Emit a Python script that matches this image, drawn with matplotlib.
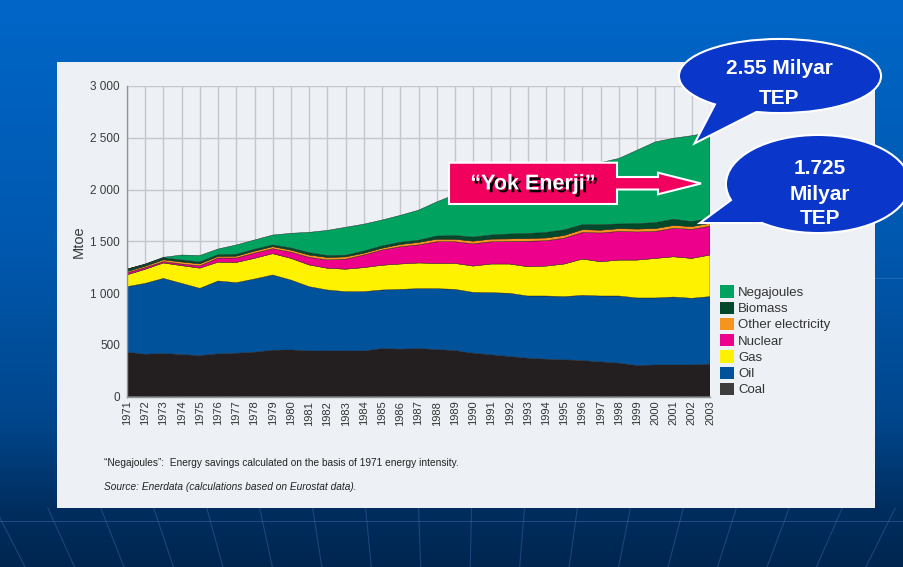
import matplotlib
matplotlib.use("Agg")
import matplotlib.pyplot as plt
import matplotlib.patheffects as pe
import numpy as np
from matplotlib.patches import Ellipse, Polygon, Rectangle, Patch

plt.rcParams["font.family"] = ["Liberation Sans Narrow", "Liberation Sans", "DejaVu Sans"]

# ---- data (Mtoe), EU energy consumption by source 1971-2003
years = list(range(1971, 2004))
coal = [428, 408, 415, 405, 395, 412, 418, 428, 447, 450, 440, 440, 440, 440, 463, 457, 463,
        453, 444, 418, 402, 386, 370, 360, 354, 347, 334, 322, 299, 305, 305, 305, 312]
oil = [633, 685, 726, 688, 650, 704, 682, 707, 727, 675, 621, 589, 573, 573, 566, 578, 579,
       589, 591, 588, 601, 611, 601, 611, 611, 630, 637, 649, 653, 647, 656, 644, 653]
gas = [114, 136, 149, 171, 195, 182, 195, 200, 206, 210, 210, 210, 217, 232, 239, 245, 248,
       244, 251, 254, 277, 283, 283, 289, 315, 351, 331, 347, 366, 382, 389, 385, 402]
nuclear = [20, 16, 13, 16, 22, 40, 43, 50, 48, 60, 74, 81, 97, 122, 147, 167, 175,
           209, 209, 215, 215, 217, 246, 245, 250, 257, 278, 277, 272, 261, 275, 281, 278]
other_elec = [12, 14, 18, 20, 20, 16, 18, 20, 20, 20, 22, 24, 22, 18, 18, 22, 24,
              25, 25, 26, 26, 26, 27, 27, 26, 27, 27, 27, 28, 28, 28, 27, 28]
biomass = [23, 18, 19, 19, 18, 16, 18, 17, 16, 20, 23, 18, 16, 20, 22, 21, 21,
           30, 35, 39, 39, 47, 48, 53, 54, 48, 53, 45, 52, 57, 59, 48, 49]
negajoules = [0, 3, 5, 48, 62, 55, 90, 90, 96, 142, 196, 243, 270, 260, 250, 260, 290,
              330, 395, 450, 470, 500, 530, 555, 565, 560, 600, 633, 710, 780, 783, 830, 828]

series_names = ["Coal", "Oil", "Gas", "Nuclear", "Other electricity", "Biomass", "Negajoules"]
series_colors = ["#231f20", "#00529b", "#fff200", "#ec008c", "#f7941d", "#00492a", "#00a260"]
legend_colors = ["#3d3d3d", "#00529b", "#fff200", "#ec008c", "#f7941d", "#00492a", "#00a260"]
y_ticks = [0, 500, 1000, 1500, 2000, 2500, 3000]
y_tick_labels = ["0", "500", "1 000", "1 500", "2 000", "2 500", "3 000"]

W, H = 904, 567
fig = plt.figure(figsize=(W / 100, H / 100), dpi=100)

# ---- slide background (pixel coordinates)
bg = fig.add_axes([0, 0, 1, 1], zorder=0)
bg.set_xlim(0, W)
bg.set_ylim(H, 0)
bg.axis("off")
stops_y = [0, 250, 420, 510, 567]
stops_c = np.array([[0, 102, 200], [0, 88, 174], [0, 70, 140], [0, 45, 94], [0, 38, 80]]) / 255
yy = np.arange(H)
grad = np.stack([np.interp(yy, stops_y, stops_c[:, k]) for k in range(3)], axis=1)
bg.imshow(grad[:, None, :], extent=(0, W, H, 0), aspect="auto", interpolation="bilinear",
          zorder=0)

# faint perspective lines on the floor
vx, vy = 452, 1400
for x0 in np.arange(-40, 960, 57):
    t = np.array([508, H])
    xs = x0 + (t - 440) * (vx - x0) / (vy - 440)
    bg.plot(xs, t, color="#3a6aa8", lw=0.8, alpha=0.45, zorder=1)
bg.plot([0, W], [521, 521], color="#3a6aa8", lw=0.8, alpha=0.5, zorder=1)
bg.plot([875, W], [278, 278], color="#3a7ac0", lw=0.8, alpha=0.5, zorder=1)

# light panel holding the chart
bg.add_patch(Rectangle((57, 62), 818, 446, facecolor="#edf1f5", edgecolor="none", zorder=3))

# ---- stacked area chart
ax = fig.add_axes([127 / W, 1 - 396.5 / H, 583 / W, 310.5 / H], zorder=2)
ax.patch.set_alpha(0)
ax.stackplot(years, coal, oil, gas, nuclear, other_elec, biomass, negajoules,
             colors=series_colors, linewidth=0.3, edgecolors=series_colors)
ax.set_xlim(years[0], years[-1])
ax.set_ylim(0, 3000)
ax.set_axisbelow(True)
ax.grid(True, color="#c4c8cd", lw=1.0)
ax.set_xticks(years)
ax.set_xticklabels([str(y) for y in years], rotation=90, fontsize=8, color="#333333")
ax.set_yticks(y_ticks)
ax.set_yticklabels(y_tick_labels, fontsize=8.5, color="#3a3a3a")
ax.tick_params(length=0, pad=5)
ax.tick_params(axis="x", pad=3)
for s in ["top", "right"]:
    ax.spines[s].set_visible(False)
for s in ["left", "bottom"]:
    ax.spines[s].set_color("#8f949a")
    ax.spines[s].set_linewidth(1.0)
ax.set_ylabel("Mtoe", fontsize=10.5, color="#3a3a3a", labelpad=3)

handles = [Patch(facecolor=c, edgecolor="none") for c in legend_colors]
leg = fig.legend(handles[::-1], series_names[::-1], loc="upper left",
                 bbox_to_anchor=(715 / W, 1 - 280 / H), frameon=False, fontsize=9.5,
                 handlelength=1.05, handleheight=1.05, handletextpad=0.3,
                 labelspacing=0.2, borderaxespad=0)
for t in leg.get_texts():
    t.set_color("#333333")

# footnotes
fig.text(104 / W, 1 - 463 / H,
         "\u201cNegajoules\u201d:  Energy savings calculated on the basis of 1971 energy intensity.",
         fontsize=7.3, color="#222222", va="center", ha="left")
fig.text(104 / W, 1 - 487 / H, "Source: Enerdata (calculations based on Eurostat data).",
         fontsize=7.3, color="#222222", style="italic", va="center", ha="left")

# ---- callouts on top
ov = fig.add_axes([0, 0, 1, 1], zorder=5)
ov.set_xlim(0, W)
ov.set_ylim(H, 0)
ov.axis("off")
ov.patch.set_alpha(0)

bubble_blue = "#0a37c9"


def bubble(center, w, h, tail, color):
    e_out = Ellipse(center, w, h, facecolor="white", edgecolor="white", lw=3)
    t_out = Polygon(tail, closed=True, facecolor="white", edgecolor="white", lw=3)
    e_in = Ellipse(center, w, h, facecolor=color, edgecolor="none")
    t_in = Polygon(tail, closed=True, facecolor=color, edgecolor="none")
    for p in (e_out, t_out, e_in, t_in):
        ov.add_patch(p)


bubble((780, 76), 200, 72, [(720, 97), (697, 141), (760, 109)], bubble_blue)
bubble((818, 184), 182, 96, [(737, 197), (703, 222), (762, 222)], bubble_blue)

bold = dict(family=["Liberation Sans", "DejaVu Sans"], weight="bold", color="white",
            ha="center", va="center", fontsize=15)
ov.text(779, 69, "2.55 Milyar", **bold)
ov.text(779, 98, "TEP", **bold)
ov.text(820, 168, "1.725", **bold)
ov.text(820, 194, "Milyar", **bold)
ov.text(820, 219, "TEP", **bold)

# "Yok Enerji" box with arrow
box_arrow = [(449, 162.7), (617, 162.7), (617, 177), (658, 177), (658, 172.7), (701, 183.5),
             (658, 194.3), (658, 189.5), (617, 189.5), (617, 204), (449, 204)]
ov.add_patch(Polygon(box_arrow, closed=True, facecolor="#f2005e", edgecolor="white", lw=1.5))
ov.text(533, 184, "\u201cYok Enerji\u201d", family=["Liberation Sans", "DejaVu Sans"],
        weight="bold", color="white", ha="center", va="center", fontsize=15.5,
        path_effects=[pe.withSimplePatchShadow(offset=(2, -2), shadow_rgbFace="black",
                                               alpha=1.0)])

fig.savefig("out.png", dpi=100)
